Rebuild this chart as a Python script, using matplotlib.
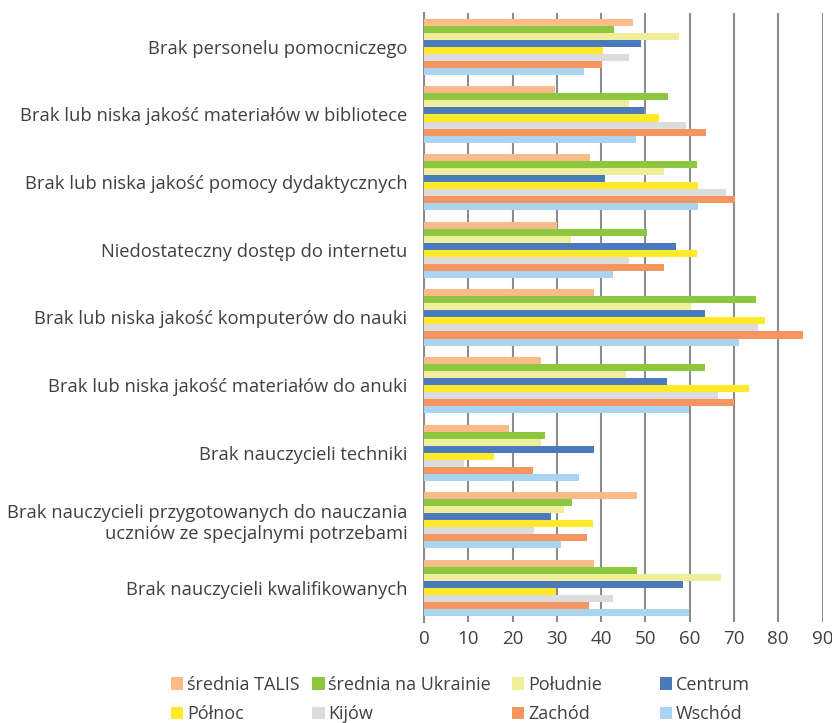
import matplotlib.pyplot as plt
import numpy as np

plt.rcParams['font.family'] = ['Open Sans', 'DejaVu Sans']

# Categories (top to bottom)
categories = [
    "Brak personelu pomocniczego",
    "Brak lub niska jakość materiałów w bibliotece",
    "Brak lub niska jakość pomocy dydaktycznych",
    "Niedostateczny dostęp do internetu",
    "Brak lub niska jakość komputerów do nauki",
    "Brak lub niska jakość materiałów do anuki",
    "Brak nauczycieli techniki",
    "Brak nauczycieli przygotowanych do nauczania\nuczniów ze specjalnymi potrzebami",
    "Brak nauczycieli kwalifikowanych",
]

series_names = ["średnia TALIS", "średnia na Ukrainie", "Południe", "Centrum",
                "Północ", "Kijów", "Zachód", "Wschód"]

talis = [47.3, 29.5, 37.4, 30.1, 38.3, 26.5, 19.3, 48.2, 38.5]
ukraina = [42.8, 55.0, 61.6, 50.3, 74.9, 63.4, 27.4, 33.5, 48.2]
poludnie = [57.5, 46.4, 54.3, 33.3, 60.2, 45.7, 26.5, 31.7, 67.0]
centrum = [49.1, 49.6, 40.8, 57.0, 63.4, 54.8, 38.5, 28.6, 58.6]
polnoc = [40.5, 53.0, 61.8, 61.6, 76.9, 73.5, 15.9, 38.1, 29.7]
kijow = [46.2, 59.1, 68.3, 46.4, 75.4, 66.3, 9.1, 24.9, 42.6]
zachod = [40.1, 63.6, 70.2, 54.1, 85.5, 69.9, 24.7, 36.9, 37.2]
wschod = [36.2, 47.8, 61.8, 42.6, 71.1, 59.8, 35.1, 31.0, 59.8]

all_series = [talis, ukraina, poludnie, centrum, polnoc, kijow, zachod, wschod]
colors = ["#F9BC89", "#8DC63F", "#F0EE9A", "#4A7ABC",
          "#FFE928", "#DCDCDC", "#F5955F", "#A9D5F0"]

fig = plt.figure(figsize=(8.32, 7.23), dpi=100)
ax = fig.add_axes([0.5096, 0.14, 0.479, 0.842])

n = len(all_series)
bar_h = 0.104
y = np.arange(len(categories))
handles = []
for i, (vals, name, c) in enumerate(zip(all_series, series_names, colors)):
    offset = (i - (n - 1) / 2) * bar_h
    h = ax.barh(y + offset, vals, height=bar_h, color=c, label=name, zorder=3)
    handles.append(h)

ax.set_xlim(0, 90)
ax.set_ylim(len(categories) - 0.5, -0.5)
ax.set_xticks(range(0, 91, 10))
ax.set_yticks(y)
ax.set_yticklabels(categories)

ax.grid(axis='x', color='#8c8c8c', linewidth=1.5, zorder=0)
for s in ['top', 'right', 'bottom']:
    ax.spines[s].set_visible(False)
ax.spines['left'].set_color('#8c8c8c')
ax.spines['left'].set_linewidth(1.5)
ax.tick_params(axis='y', length=0, labelsize=13.2, labelcolor='#404040', pad=12)
ax.tick_params(axis='x', length=0, labelsize=13.5, labelcolor='#404040', pad=6)

# legend: one small legend per column, laid out in two rows like the original
col_x = [0.205, 0.375, 0.615, 0.793]
for j, x0 in enumerate(col_x):
    idx = [j, j + 4]
    fig.legend([handles[k] for k in idx], [series_names[k] for k in idx],
               loc='upper left', bbox_to_anchor=(x0, 0.065), frameon=False,
               fontsize=13, labelcolor='#404040', borderpad=0, borderaxespad=0,
               handlelength=0.7, handleheight=0.7, handletextpad=0.2,
               labelspacing=0.63)

plt.savefig("out.png")
